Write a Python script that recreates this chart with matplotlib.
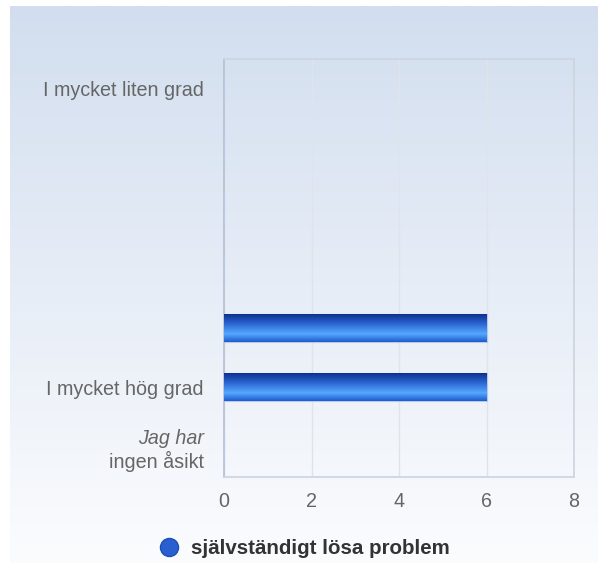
import numpy as np
import matplotlib
matplotlib.use("Agg")
import matplotlib.pyplot as plt
from matplotlib.colors import LinearSegmentedColormap
from matplotlib.lines import Line2D

# Data
categories = ["I mycket liten grad", "", "", "", "", "I mycket hög grad", "Jag har ingen åsikt"]
values = [0, 0, 0, 0, 6, 6, 0]
series_name = "självständigt lösa problem"
x_ticks = [0, 2, 4, 6, 8]

plt.rcParams['font.family'] = ['Liberation Sans', 'DejaVu Sans']

fig = plt.figure(figsize=(5.98, 5.63), dpi=100)

# Background panel with vertical gradient
bg = fig.add_axes([10 / 598, 0, 1 - 10 / 598, 1 - 6 / 563], zorder=-10)
bg_cmap = LinearSegmentedColormap.from_list("bg", ["#fbfcfe", "#d2deef"])
grad = np.linspace(0, 1, 256).reshape(-1, 1)
bg.imshow(grad, aspect="auto", cmap=bg_cmap, origin="lower", extent=[0, 1, 0, 1])
bg.set_axis_off()

ax = fig.add_axes([224 / 598, 1 - 477 / 563, (574 - 224) / 598, (477 - 59) / 563])
ax.set_facecolor("none")

y = np.arange(len(categories))
bars = ax.barh(y, values, height=0.47, color="#2a6ad8", edgecolor="#b8c8e6", linewidth=0.8, zorder=3)

# Gradient fill for the bars
bar_cmap = LinearSegmentedColormap.from_list(
    "bar", [(0.0, "#0b2b86"), (0.35, "#2a63cf"), (0.72, "#55a8ff"), (1.0, "#1d5ccd")])
bar_grad = np.linspace(0, 1, 128).reshape(-1, 1)
for b in bars:
    if b.get_width() <= 0:
        continue
    x0, y0 = b.get_x(), b.get_y()
    w, h = b.get_width(), b.get_height()
    im = ax.imshow(bar_grad, aspect="auto", cmap=bar_cmap, origin="upper",
                   extent=[x0, x0 + w, y0 + h, y0], zorder=3.5)
    im.set_clip_path(b)

ax.set_xlim(0, 8)
ax.set_ylim(len(categories) - 0.5, -0.5)
ax.set_xticks(x_ticks)
ax.set_xticklabels([str(t) for t in x_ticks])
ax.set_yticks(y)
labels = list(categories)
labels[-1] = ""
ax.set_yticklabels(labels)
ax.tick_params(axis="both", length=0, labelsize=14.2, labelcolor="#666666")
ax.tick_params(axis="y", pad=14.5)
ax.tick_params(axis="x", pad=11)

# Two-line label with italic first line
ax.annotate("Jag har", xy=(0, y[-1]), xycoords=("axes fraction", "data"),
            xytext=(-14.5, 6.5), textcoords="offset points", ha="right", va="center",
            fontsize=14.2, color="#666666", style="italic")
ax.annotate("ingen åsikt", xy=(0, y[-1]), xycoords=("axes fraction", "data"),
            xytext=(-14.5, -10), textcoords="offset points", ha="right", va="center",
            fontsize=14.2, color="#666666")

ax.grid(axis="x", color="#dfe4ea", linewidth=1, zorder=0)
ax.set_axisbelow(True)
for side in ["top", "right", "bottom"]:
    ax.spines[side].set_color("#cdd4de")
    ax.spines[side].set_linewidth(1.2)
ax.spines["left"].set_color("#b3bfd3")
ax.spines["left"].set_linewidth(1.2)

handle = Line2D([], [], marker="o", linestyle="none", markersize=13,
                markerfacecolor="#2a5fcf", markeredgecolor="#1a4fb8")
fig.legend([handle], [series_name], loc="center", bbox_to_anchor=(0.5, 1 - 549 / 563),
           frameon=False, prop={"weight": "bold", "size": 14.8}, labelcolor="#333333",
           handletextpad=0.1)

fig.savefig("out.png", dpi=100)
